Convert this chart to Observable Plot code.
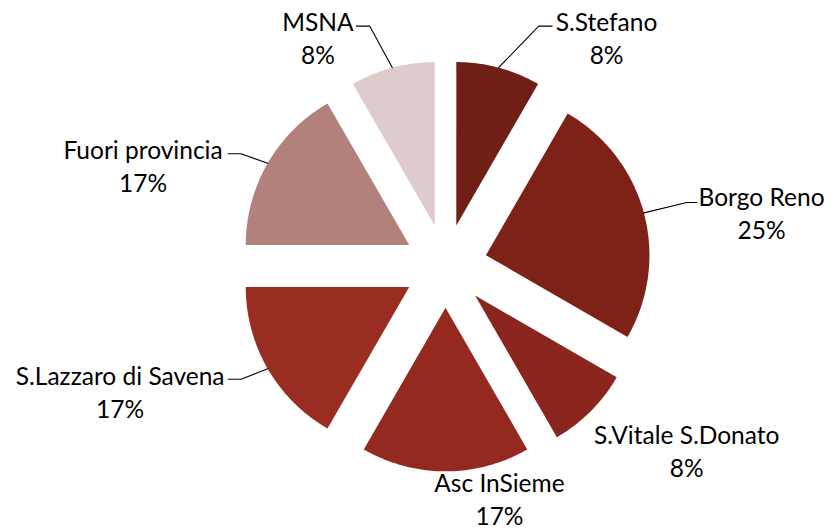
<!DOCTYPE html>
<html>
<head>
<meta charset="utf-8">
<script src="https://cdn.jsdelivr.net/npm/d3@7"></script>
<script src="https://cdn.jsdelivr.net/npm/@observablehq/plot@0.6"></script>
<style>
  html, body { margin: 0; padding: 0; background: #ffffff; }
  #chart { width: 831px; height: 529px; }
</style>
</head>
<body>
<div id="chart"></div>
<script>
// ---- data ----
const categories = ["S.Stefano", "Borgo Reno", "S.Vitale S.Donato", "Asc InSieme", "S.Lazzaro di Savena", "Fuori provincia", "MSNA"];
const values = [1, 3, 1, 2, 2, 2, 1];
const colors = ["#701f16", "#7e2218", "#8b261e", "#94291f", "#9a2d21", "#b3817c", "#dfcbcb"];

// ---- layout (in pie-radius units, relative to the pie centre, y up) ----
const W = 831, H = 529;
const CX = 445, CY = 265.5, R = 163.5;   // pie centre & radius in px
const explode = 0.256;                   // slice offset as fraction of radius
const labelPos = [
  [0.985, 1.40], [1.933, 0.33], [1.475, -1.125], [0.33, -1.418],
  [-1.99, -0.765], [-1.85, 0.62], [-0.78, 1.40]
];
// leader elbow and end for labels that have one (null = no leader)
const leaderPos = [
  [[0.57, 1.467], [0.652, 1.467]],
  [[1.476, 0.388], [1.537, 0.388]],
  null,
  null,
  [[-1.25, -0.693], [-1.33, -0.693]],
  [[-1.25, 0.687], [-1.33, 0.687]],
  [[-0.463, 1.467], [-0.545, 1.467]]
];

const total = d3.sum(values);
const arcs = d3.pie().sort(null).value(d => d)(values);

// slice polygons
const slicePts = [];
arcs.forEach((a, i) => {
  const mid = (a.startAngle + a.endAngle) / 2;
  const ox = explode * Math.sin(mid), oy = explode * Math.cos(mid);
  slicePts.push({name: categories[i], x: ox, y: oy});
  const n = Math.max(8, Math.ceil((a.endAngle - a.startAngle) / (Math.PI / 180)));
  for (let k = 0; k <= n; k++) {
    const t = a.startAngle + (a.endAngle - a.startAngle) * k / n;
    slicePts.push({name: categories[i], x: ox + Math.sin(t), y: oy + Math.cos(t)});
  }
});

// leader lines
const leaderPts = [];
arcs.forEach((a, i) => {
  if (!leaderPos[i]) return;
  const mid = (a.startAngle + a.endAngle) / 2;
  const rr = 1 + explode;
  leaderPts.push({name: categories[i], x: rr * Math.sin(mid), y: rr * Math.cos(mid)});
  leaderPts.push({name: categories[i], x: leaderPos[i][0][0], y: leaderPos[i][0][1]});
  leaderPts.push({name: categories[i], x: leaderPos[i][1][0], y: leaderPos[i][1][1]});
});

// labels
const labels = categories.map((c, i) => ({
  name: c,
  x: labelPos[i][0],
  y: labelPos[i][1],
  text: c + "\n" + Math.round(values[i] / total * 100) + "%"
}));

const chart = Plot.plot({
  width: W,
  height: H,
  margin: 0,
  style: {background: "#ffffff", color: "#000000"},
  x: {domain: [-CX / R, (W - CX) / R], axis: null},
  y: {domain: [-(H - CY) / R, CY / R], axis: null},
  color: {domain: categories, range: colors},
  marks: [
    Plot.line(slicePts, {x: "x", y: "y", z: "name", fill: "name", stroke: "none", curve: "linear-closed"}),
    Plot.line(leaderPts, {x: "x", y: "y", z: "name", stroke: "#000000", strokeWidth: 1.1}),
    Plot.text(labels, {
      x: "x", y: "y", text: "text",
      fontFamily: "Lato", fontSize: 24.5, lineHeight: 1.36,
      lineAnchor: "middle", textAnchor: "middle", fill: "#000000"
    })
  ]
});
document.getElementById("chart").appendChild(chart);
</script>
</body>
</html>
